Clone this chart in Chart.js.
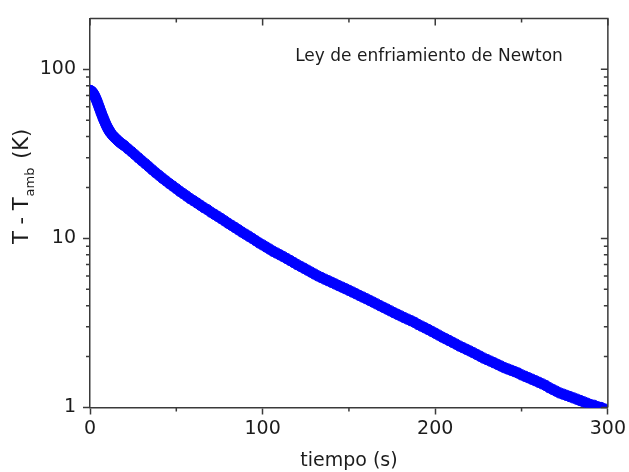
<!DOCTYPE html>
<html><head><meta charset="utf-8">
<script src="https://cdn.jsdelivr.net/npm/chart.js@4/dist/chart.umd.min.js"></script>
<style>html,body{margin:0;padding:0;background:#fff;overflow:hidden}</style>
</head><body>
<canvas id="c" width="629" height="472"></canvas>
<script>
// ---- data ----
const times = [
  0,0.5,1,1.5,2,2.5,3,3.5,4,4.5,
  5,5.5,6,6.5,7,7.5,8,8.5,9,9.5,
  10,10.5,11,11.5,12,13,14,15,16,17,18,19,
  20,22,24,26,28, 30,32,34,36,38, 40,42,44,46,48, 50,52,54,56,58,
  60,62,64,66,68, 70,72,74,76,78, 80,82,84,86,88, 90,92,94,96,98,
  100,102,104,106,108, 110,112,114,116,118, 120,122,124,126,128, 130,132,134,136,138,
  140,142,144,146,148, 150,152,154,156,158, 160,162,164,166,168, 170,172,174,176,178,
  180,182,184,186,188, 190,192,194,196,198, 200,202,204,206,208, 210,212,214,216,218,
  220,222,224,226,228, 230,232,234,236,238, 240,242,244,246,248, 250,252,254,256,258,
  260,262,264,266,268, 270,272,274,276,278, 280,282,284,286,288, 290,292,294,296,298
];
const tempDiff = [
  75,74.6,74,73,71.8,70.3,68.6,66.8,64.9,62.9,
  60.9,59,57.1,55.3,53.6,52,50.5,49.1,47.8,46.6,
  45.5,44.5,43.6,42.8,42.0,40.8,39.8,38.9,38.0,37.2,36.5,35.9,
  35.3,33.9,32.6,31.3,30.0, 28.8,27.7,26.6,25.5,24.5, 23.6,22.7,21.9,21.1,20.4, 19.7,19.0,18.4,17.8,17.2,
  16.7,16.2,15.7,15.2,14.8, 14.3,13.9,13.5,13.1,12.7, 12.3,11.95,11.6,11.25,10.9, 10.6,10.3,10.0,9.7,9.4,
  9.15,8.9,8.65,8.4,8.2, 8.0,7.8,7.6,7.4,7.2, 7.0,6.83,6.66,6.49,6.32, 6.16,6.0,5.87,5.74,5.62,
  5.5,5.38,5.26,5.15,5.04, 4.93,4.82,4.71,4.6,4.5, 4.4,4.3,4.2,4.1,4.0, 3.91,3.82,3.73,3.64,3.56,
  3.48,3.4,3.33,3.26,3.19, 3.1,3.03,2.96,2.89,2.82, 2.75,2.68,2.61,2.55,2.49, 2.43,2.37,2.31,2.26,2.21,
  2.16,2.11,2.06,2.01,1.96, 1.92,1.88,1.84,1.8,1.76, 1.72,1.69,1.66,1.63,1.6, 1.56,1.53,1.5,1.47,1.44,
  1.41,1.38,1.35,1.31,1.28, 1.25,1.22,1.2,1.18,1.16, 1.14,1.12,1.1,1.08,1.06, 1.04,1.03,1.01,1.0,0.98
];
const xTickValues = [0,100,200,300];
const xMinorValues = [50,150,250];
const yTickValues = [1,10,100];
const yMinorValues = [2,3,4,5,6,7,8,9,20,30,40,50,60,70,80,90];
const chartTitle = 'Ley de enfriamiento de Newton';
const xTitle = 'tiempo (s)';
const yTitleParts = ['T - T', 'amb', ' (K)'];

const FONT = '"DejaVu Sans", "Liberation Sans", Arial, sans-serif';
const TEXT = '#1c1c1c';
const AXIS = '#3a3a3a';
const MAJOR = 7, MINOR = 4;

const decor = {
  id: 'decor',
  afterDraw(chart) {
    const ctx = chart.ctx, a = chart.chartArea;
    const xs = chart.scales.x, ys = chart.scales.y;
    ctx.save();
    ctx.strokeStyle = AXIS;
    ctx.lineWidth = 1.5;
    ctx.beginPath();
    ctx.moveTo(a.left, a.top); ctx.lineTo(a.right, a.top); ctx.lineTo(a.right, a.bottom);
    ctx.stroke();
    ctx.beginPath();
    xMinorValues.forEach(v => {
      const p = xs.getPixelForValue(v);
      ctx.moveTo(p, a.bottom); ctx.lineTo(p, a.bottom + MINOR);
      ctx.moveTo(p, a.top); ctx.lineTo(p, a.top + MINOR);
    });
    xTickValues.forEach(v => {
      const p = xs.getPixelForValue(v);
      ctx.moveTo(p, a.top); ctx.lineTo(p, a.top + MAJOR);
    });
    yMinorValues.forEach(v => {
      const p = ys.getPixelForValue(v);
      ctx.moveTo(a.left, p); ctx.lineTo(a.left - MINOR, p);
      ctx.moveTo(a.right, p); ctx.lineTo(a.right - MINOR, p);
    });
    yTickValues.forEach(v => {
      const p = ys.getPixelForValue(v);
      ctx.moveTo(a.right, p); ctx.lineTo(a.right - MAJOR, p);
    });
    ctx.stroke();
    ctx.fillStyle = TEXT;
    ctx.font = '17px ' + FONT;
    ctx.textAlign = 'center';
    ctx.textBaseline = 'alphabetic';
    ctx.fillText(chartTitle, 429, 61);
    ctx.translate(28, 244);
    ctx.rotate(-Math.PI / 2);
    ctx.textAlign = 'left';
    ctx.font = '21px ' + FONT;
    ctx.fillText(yTitleParts[0], 0, 0);
    let w = ctx.measureText(yTitleParts[0]).width + 1;
    ctx.font = '13px ' + FONT;
    ctx.fillText(yTitleParts[1], w, 6);
    w += ctx.measureText(yTitleParts[1]).width + 2;
    ctx.font = '21px ' + FONT;
    ctx.fillText(yTitleParts[2], w, 0);
    ctx.restore();
  }
};

new Chart(document.getElementById('c'), {
  type: 'scatter',
  data: {
    datasets: [{
      data: times.map((t, i) => ({x: t, y: tempDiff[i]})),
      pointRadius: 5.2,
      pointBorderWidth: 1,
      pointBackgroundColor: '#0000ff',
      pointBorderColor: '#0000ff',
      pointHoverRadius: 5.2,
      showLine: false,
      clip: 0
    }]
  },
  options: {
    responsive: false,
    animation: false,
    events: [],
    layout: {padding: {top: 13, right: 20, left: 0, bottom: 0}},
    plugins: {legend: {display: false}, tooltip: {enabled: false}},
    scales: {
      x: {
        type: 'linear', min: 0, max: 300,
        afterBuildTicks: s => { s.ticks = xTickValues.map(v => ({value: v})); },
        afterFit: s => { s.height = 64.5; },
        ticks: {autoSkip: false, maxRotation: 0, padding: 3, color: TEXT,
                font: {family: FONT, size: 19}, callback: v => String(v)},
        grid: {drawOnChartArea: false, drawTicks: true, tickLength: MAJOR, tickColor: AXIS, tickWidth: 1.5},
        border: {display: true, color: AXIS, width: 1.5},
        title: {display: true, text: xTitle, color: TEXT, font: {family: FONT, size: 19},
                padding: {top: 1, bottom: 0}}
      },
      y: {
        type: 'logarithmic', min: 1, max: 200,
        afterBuildTicks: s => { s.ticks = yTickValues.map(v => ({value: v, major: true})); },
        afterFit: s => { s.width = 90; },
        ticks: {autoSkip: false, padding: 7, color: TEXT,
                font: {family: FONT, size: 19}, callback: v => String(v)},
        grid: {drawOnChartArea: false, drawTicks: true, tickLength: MAJOR, tickColor: AXIS, tickWidth: 1.5},
        border: {display: true, color: AXIS, width: 1.5}
      }
    }
  },
  plugins: [decor]
});
</script>
</body></html>
